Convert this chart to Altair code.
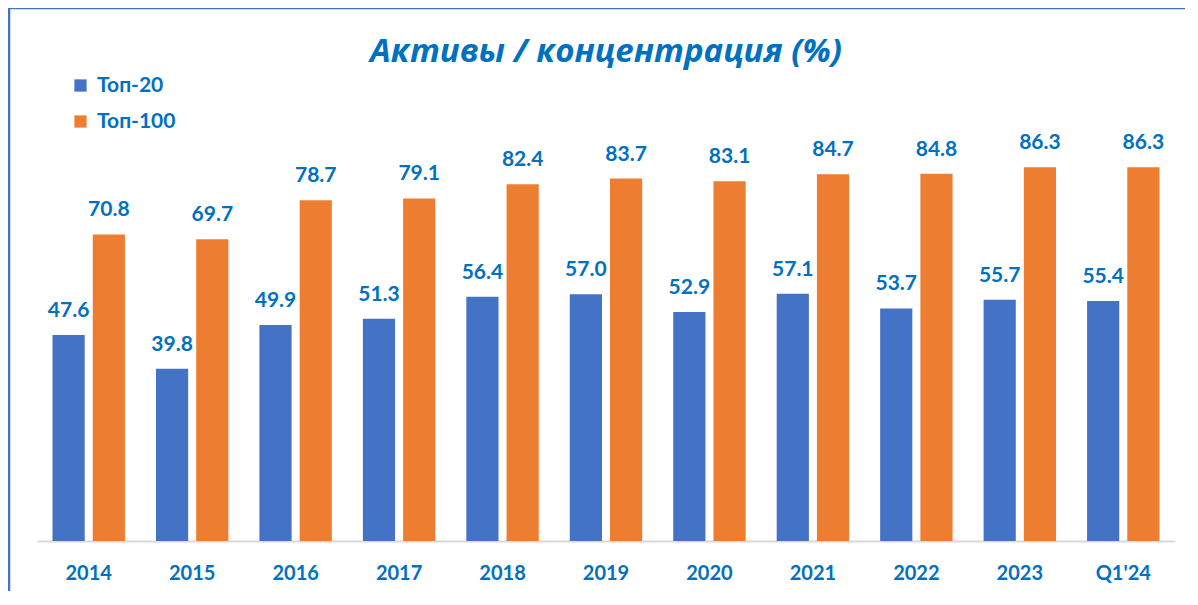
import altair as alt
import pandas as pd

categories = ["2014", "2015", "2016", "2017", "2018", "2019", "2020", "2021", "2022", "2023", "Q1'24"]
top20 = [47.6, 39.8, 49.9, 51.3, 56.4, 57.0, 52.9, 57.1, 53.7, 55.7, 55.4]
top100 = [70.8, 69.7, 78.7, 79.1, 82.4, 83.7, 83.1, 84.7, 84.8, 86.3, 86.3]
series = ["Топ-20", "Топ-100"]
colors = ["#4472C4", "#ED7D31"]
title_text = ["Активы / концентрация (%)"]

rows = []
for c, a, b in zip(categories, top20, top100):
    rows.append({"cat": c, "series": series[0], "value": a})
    rows.append({"cat": c, "series": series[1], "value": b})
df = pd.DataFrame(rows)

FONT = "Lato"
BLUE_TXT = "#0070C0"

x = alt.X("cat:N", sort=categories, title=None,
          scale=alt.Scale(paddingInner=0.3, paddingOuter=0.15),
          axis=alt.Axis(labelAngle=0, labelFont=FONT, labelFontSize=20, labelFontWeight="bold",
                        labelColor=BLUE_TXT, labelPadding=22, ticks=False,
                        domainColor="#D9D9D9", domainWidth=2))
xo = alt.XOffset("series:N", sort=series, scale=alt.Scale(paddingInner=0.2, paddingOuter=0))
y = alt.Y("value:Q", scale=alt.Scale(domain=[0, 100]), axis=None)

bars = alt.Chart(df).mark_bar().encode(
    x=x, xOffset=xo, y=y,
    color=alt.Color("series:N", sort=series,
                    scale=alt.Scale(domain=series, range=colors),
                    legend=alt.Legend(title=None, orient="none", legendX=33, legendY=-33,
                                      symbolType="square", symbolSize=150, symbolStrokeWidth=0,
                                      labelFont=FONT, labelFontSize=21, labelFontWeight="bold",
                                      labelColor=BLUE_TXT, labelOffset=6, rowPadding=14)),
)

labels = alt.Chart(df).mark_text(font=FONT, fontSize=21, fontWeight="bold", color=BLUE_TXT,
                                 baseline="alphabetic", dy=-18).encode(
    x=x, xOffset=xo, y=y, text=alt.Text("value:Q", format=".1f"))

title_df = pd.DataFrame({"t": title_text})
title = alt.Chart(title_df).mark_text(font="Open Sans", fontSize=33, fontWeight="bold", fontStyle="italic",
                                      color=BLUE_TXT, baseline="alphabetic", align="center").encode(
    x=alt.value(569), y=alt.value(-46), text="t:N")

frame_df = pd.DataFrame({"k": [0]})
top_line = alt.Chart(frame_df).mark_rule(color="#4472C4", strokeWidth=2.5).encode(
    x=alt.value(-29), x2=alt.value(1200), y=alt.value(-100))
left_line = alt.Chart(frame_df).mark_rule(color="#4472C4", strokeWidth=2.5).encode(
    x=alt.value(-28), y=alt.value(-100), y2=alt.value(600))

chart = alt.layer(bars, labels, title, top_line, left_line).properties(
    width=1138, height=433,
    padding={"left": 29, "top": 100, "right": 10, "bottom": 50},
    autosize=alt.AutoSizeParams(type="none"),
).configure_view(stroke=None)

chart.save("out.html", embed_options={"renderer": "svg", "actions": False})
